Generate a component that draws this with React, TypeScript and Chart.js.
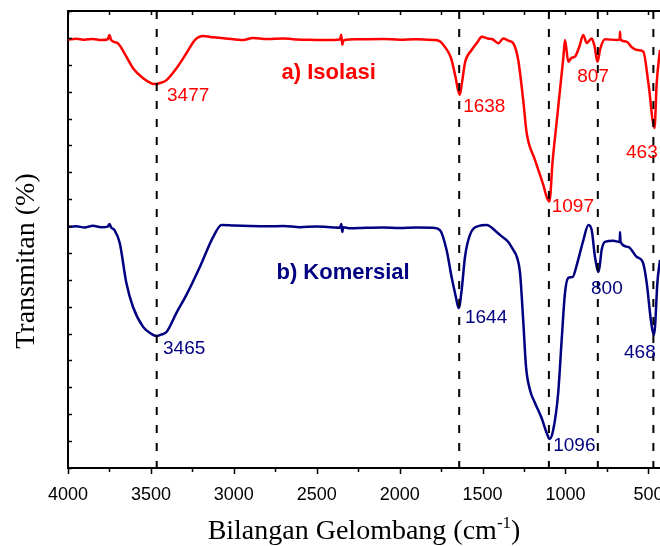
import { useEffect, useRef } from 'react';
import { Chart, registerables } from 'chart.js';

Chart.register(...registerables);

// ---- data (wavenumber in cm-1, transmittance in arbitrary %) ----
const isolasiWave = [4000, 3950, 3900, 3850, 3800, 3760, 3750, 3740, 3700, 3648, 3608, 3547, 3500, 3477, 3440, 3406, 3346, 3286, 3235, 3185, 3125, 3050, 2944, 2885, 2800, 2700, 2642, 2550, 2441, 2360, 2352, 2346, 2340, 2300, 2240, 2100, 2000, 1900, 1800, 1760, 1720, 1690, 1665, 1638, 1625, 1605, 1566, 1530, 1505, 1470, 1440, 1405, 1375, 1345, 1315, 1285, 1255, 1234, 1184, 1134, 1113, 1097, 1077, 1053, 1033, 1013, 1003, 983, 965, 943, 915, 893, 872, 842, 825, 807, 790, 762, 691, 673, 671, 668, 631, 600, 570, 531, 500, 463, 450, 430];
const isolasiT = [159.4, 159.7, 159.3, 159.6, 159.2, 159.5, 161.1, 159.2, 158.0, 153.0, 148.7, 145.0, 143.2, 142.8, 143.3, 144.3, 148.7, 154.3, 159.2, 160.7, 160.2, 159.8, 159.2, 160.0, 159.6, 159.8, 159.5, 159.3, 159.2, 159.4, 161.2, 157.4, 159.0, 159.4, 159.5, 159.6, 159.3, 159.5, 159.2, 158.8, 156.0, 152.5, 146.0, 138.8, 143.0, 151.0, 155.5, 158.5, 160.4, 159.8, 159.5, 158.0, 159.8, 159.0, 158.0, 151.8, 136.9, 124.6, 114.6, 105.3, 100.8, 99.1, 114.6, 128.8, 140.7, 152.6, 159.2, 151.1, 152.5, 153.0, 157.0, 161.1, 158.1, 159.8, 157.0, 151.1, 156.0, 159.5, 159.2, 159.5, 162.3, 159.3, 158.6, 156.5, 155.5, 154.9, 143.2, 126.5, 143.2, 155.5];

const komersialWave = [4000, 3950, 3900, 3850, 3800, 3760, 3750, 3740, 3720, 3688, 3648, 3608, 3547, 3500, 3465, 3440, 3406, 3346, 3286, 3205, 3125, 3074, 3000, 2900, 2800, 2700, 2600, 2500, 2400, 2360, 2352, 2346, 2340, 2300, 2200, 2100, 2000, 1900, 1800, 1757, 1717, 1687, 1661, 1644, 1626, 1606, 1576, 1526, 1476, 1415, 1395, 1345, 1315, 1294, 1274, 1255, 1238, 1214, 1184, 1144, 1113, 1096, 1074, 1044, 1023, 1003, 983, 956, 932, 892, 862, 842, 822, 800, 782, 762, 711, 673, 671, 668, 621, 570, 534, 510, 485, 468, 460, 446, 430];
const komersialT = [89.7, 89.9, 89.5, 90.1, 89.6, 89.8, 90.8, 89.5, 88.5, 83.7, 68.8, 59.9, 52.5, 50.0, 49.1, 49.6, 50.6, 57.7, 64.4, 74.8, 85.9, 90.4, 90.2, 90.0, 89.9, 90.0, 89.6, 89.8, 89.5, 89.4, 90.8, 87.8, 89.6, 89.2, 89.4, 89.5, 89.3, 89.5, 89.4, 88.5, 81.1, 71.1, 63.6, 59.5, 66.2, 78.5, 86.7, 90.0, 90.4, 87.8, 86.7, 84.1, 81.1, 78.6, 72.5, 55.0, 37.7, 29.0, 24.2, 18.6, 13.0, 10.8, 14.1, 27.9, 47.6, 65.1, 70.7, 71.1, 75.5, 84.8, 90.4, 88.5, 78.5, 72.9, 81.1, 84.1, 84.5, 84.1, 87.8, 84.1, 82.2, 78.5, 76.6, 68.8, 55.0, 49.5, 52.5, 68.8, 77.4];

const markerWaves = [3465, 1641, 1100, 805, 470];

const xTickLabels = [4000, 3500, 3000, 2500, 2000, 1500, 1000, 500];
const xMinorTicks = [3750, 3250, 2750, 2250, 1750, 1250, 750];

const isolasiPeakText = ['3477', '1638', '1097', '807', '463'];
const isolasiPeakX = [3403, 1617, 1083, 929, 635];
const isolasiPeakY = [138.5, 134.4, 97.0, 145.6, 117.3];

const komersialPeakText = ['3465', '1644', '1096', '800', '468'];
const komersialPeakX = [3427, 1606, 1074, 846, 647];
const komersialPeakY = [44.2, 55.7, 8.2, 66.5, 42.7];

const seriesNames = ['a) Isolasi', 'b) Komersial'];
const seriesNameX = [2712, 2743];
const seriesNameY = [146.9, 72.4];

const RED = '#ff0000';
const NAVY = '#000080';
const SANS = 'Arial, "Liberation Sans", sans-serif';
const SERIF = '"Times New Roman", "Liberation Serif", serif';

export default function App() {
  const ref = useRef<HTMLCanvasElement>(null);

  useEffect(() => {
    const canvas = ref.current!;
    const toPts = (xs: number[], ys: number[]) => xs.map((x, i) => ({ x, y: ys[i] }));

    const markerSets = markerWaves.map((w) => ({
      type: 'line' as const,
      data: [{ x: w, y: 170 }, { x: w, y: 0 }],
      borderColor: '#000',
      borderWidth: 2,
      borderDash: [8, 10],
      pointRadius: 0,
      fill: false,
      order: 0,
    }));

    const overlay = {
      id: 'overlay',
      afterDatasetsDraw(chart: any) {
        const ctx = chart.ctx as CanvasRenderingContext2D;
        const xs = chart.scales.x;
        const ys = chart.scales.y;
        ctx.save();
        ctx.textAlign = 'left';
        ctx.textBaseline = 'middle';
        ctx.font = `19px ${SANS}`;
        ctx.fillStyle = RED;
        isolasiPeakText.forEach((t, i) => {
          ctx.fillText(t, xs.getPixelForValue(isolasiPeakX[i]), ys.getPixelForValue(isolasiPeakY[i]));
        });
        ctx.fillStyle = NAVY;
        komersialPeakText.forEach((t, i) => {
          ctx.fillText(t, xs.getPixelForValue(komersialPeakX[i]), ys.getPixelForValue(komersialPeakY[i]));
        });
        ctx.font = `bold 22px ${SANS}`;
        [RED, NAVY].forEach((c, i) => {
          ctx.fillStyle = c;
          ctx.fillText(seriesNames[i], xs.getPixelForValue(seriesNameX[i]), ys.getPixelForValue(seriesNameY[i]));
        });
        ctx.restore();
      },
      afterDraw(chart: any) {
        const ctx = chart.ctx as CanvasRenderingContext2D;
        const { left, right, top, bottom } = chart.chartArea;
        const xs = chart.scales.x;
        const ys = chart.scales.y;
        ctx.save();
        ctx.strokeStyle = '#000';
        // top border
        ctx.lineWidth = 2;
        ctx.beginPath();
        ctx.moveTo(left - 1, top);
        ctx.lineTo(right, top);
        ctx.stroke();
        ctx.lineWidth = 1.5;
        // bottom outward ticks, top inward ticks
        const drawX = (v: number, len: number) => {
          const p = Math.round(xs.getPixelForValue(v)) + 0.5;
          ctx.beginPath();
          ctx.moveTo(p, bottom);
          ctx.lineTo(p, bottom + len);
          ctx.moveTo(p, top);
          ctx.lineTo(p, top + 4);
          ctx.stroke();
        };
        xTickLabels.forEach((v) => drawX(v, 6));
        xMinorTicks.forEach((v) => drawX(v, 4));
        // left inward ticks
        ys.ticks.forEach((t: any) => {
          const p = Math.round(ys.getPixelForValue(t.value)) + 0.5;
          ctx.beginPath();
          ctx.moveTo(left, p);
          ctx.lineTo(left + 4, p);
          ctx.stroke();
        });
        // axis titles
        ctx.fillStyle = '#000';
        ctx.textBaseline = 'alphabetic';
        ctx.font = `28px ${SERIF}`;
        ctx.save();
        ctx.translate(34, 261);
        ctx.rotate(-Math.PI / 2);
        ctx.textAlign = 'center';
        ctx.fillText('Transmitan (%)', 0, 0);
        ctx.restore();

        const main = 'Bilangan Gelombang (cm';
        const sup = '-1';
        const close = ')';
        ctx.font = `28px ${SERIF}`;
        const w1 = ctx.measureText(main).width;
        const w3 = ctx.measureText(close).width;
        ctx.font = `17px ${SERIF}`;
        const w2 = ctx.measureText(sup).width;
        const total = w1 + w2 + w3;
        const x0 = (left + right) / 2 - total / 2;
        const base = 539;
        ctx.textAlign = 'left';
        ctx.font = `28px ${SERIF}`;
        ctx.fillText(main, x0, base);
        ctx.font = `17px ${SERIF}`;
        ctx.fillText(sup, x0 + w1, base - 11);
        ctx.font = `28px ${SERIF}`;
        ctx.fillText(close, x0 + w1 + w2, base);
        ctx.restore();
      },
    };

    const chart = new Chart(canvas, {
      type: 'line',
      data: {
        datasets: [
          {
            label: seriesNames[0],
            data: toPts(isolasiWave, isolasiT),
            borderColor: RED,
            borderWidth: 2.5,
            pointRadius: 0,
            fill: false,
            cubicInterpolationMode: 'monotone',
            order: 1,
          },
          {
            label: seriesNames[1],
            data: toPts(komersialWave, komersialT),
            borderColor: NAVY,
            borderWidth: 2.5,
            pointRadius: 0,
            fill: false,
            cubicInterpolationMode: 'monotone',
            order: 1,
          },
          ...markerSets,
        ] as any,
      },
      options: {
        responsive: false,
        animation: false,
        devicePixelRatio: 1,
        events: [],
        layout: { padding: { top: 11, left: 0, right: 0, bottom: 0 } },
        plugins: { legend: { display: false }, tooltip: { enabled: false } },
        scales: {
          x: {
            type: 'linear',
            position: 'bottom',
            reverse: true,
            min: 430,
            max: 4000,
            afterBuildTicks: (s: any) => {
              s.ticks = [...xTickLabels, ...xMinorTicks].sort((a, b) => b - a).map((v) => ({ value: v }));
            },
            afterFit: (s: any) => {
              s.height = 78;
              s.paddingLeft = 0;
              s.paddingRight = 0;
            },
            grid: { display: false },
            border: { display: true, color: '#000', width: 2 },
            ticks: {
              autoSkip: false,
              maxRotation: 0,
              minRotation: 0,
              padding: 8,
              color: '#000',
              font: { family: SANS, size: 18 },
              callback: (v: any) => (xTickLabels.includes(Number(v)) ? String(v) : ''),
            },
          },
          y: {
            type: 'linear',
            min: 0,
            max: 170,
            ticks: { display: false, stepSize: 10 },
            grid: { display: false },
            border: { display: true, color: '#000', width: 2 },
            afterFit: (s: any) => {
              s.width = 68;
            },
          },
        },
      } as any,
      plugins: [overlay],
    });
    return () => chart.destroy();
  }, []);

  return (
    <div style={{ position: 'absolute', left: 0, top: 0, width: 660, height: 546, background: '#fff' }}>
      <canvas ref={ref} width={660} height={546} style={{ display: 'block' }} />
    </div>
  );
}
